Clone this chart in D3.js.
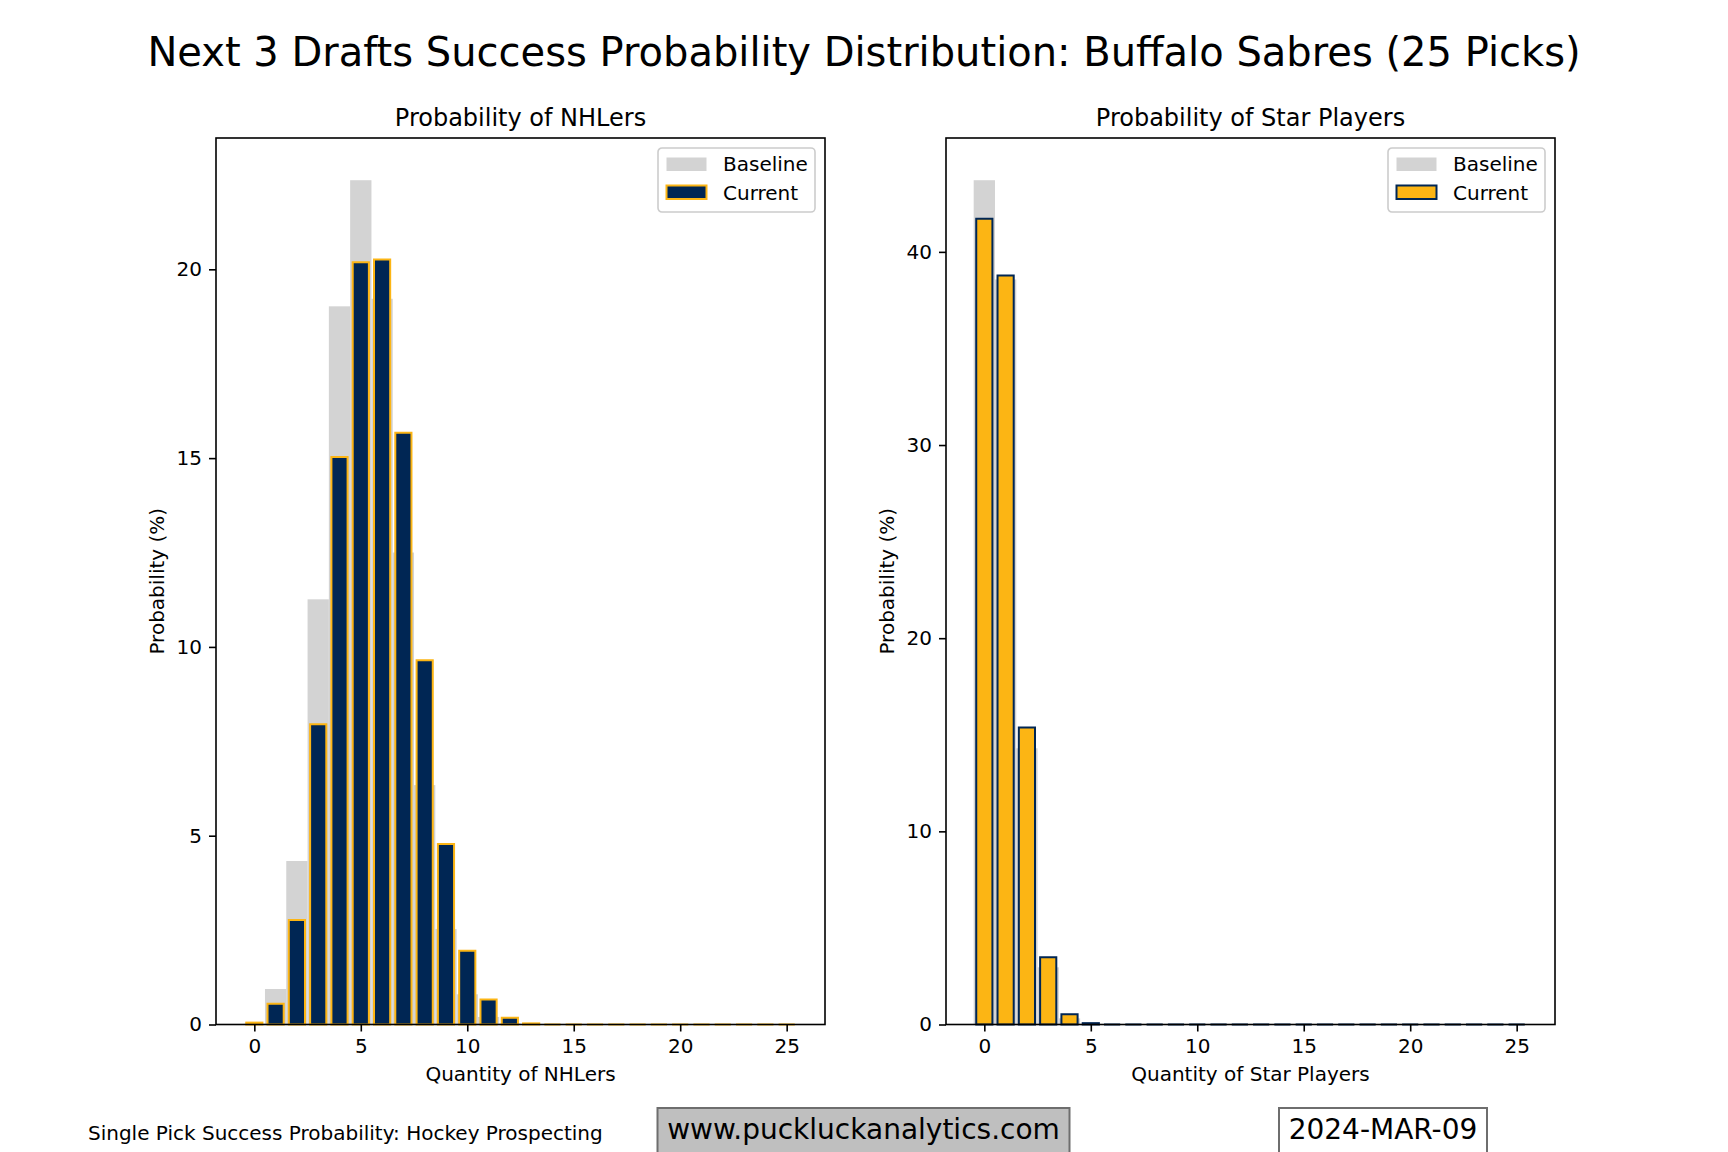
<!DOCTYPE html>
<html>
<head>
<meta charset="utf-8">
<script src="https://cdn.jsdelivr.net/npm/d3@7"></script>
<style>
  body { margin: 0; background: #fff; }
  svg text { font-family: "DejaVu Sans", sans-serif; fill: #000; }
</style>
</head>
<body>
<div id="chart"></div>
<script>
// quantities 0..25
const quantities = d3.range(0, 26)
const xTicks = [0, 5, 10, 15, 20, 25]

// NHLers distribution (%)
const nhlBaseline = [0.02, 0.94, 4.33, 11.26, 19.02, 22.36, 19.22, 12.5, 6.34, 2.53, 0.8, 0.2, 0.03,
  0, 0, 0, 0, 0, 0, 0, 0, 0, 0, 0, 0, 0]
const nhlCurrent = [0.05, 0.55, 2.77, 7.95, 15.03, 20.19, 20.26, 15.67, 9.65, 4.78, 1.95, 0.66, 0.18,
  0.03, 0, 0, 0, 0, 0, 0, 0, 0, 0, 0, 0, 0]
const nhlTicks = [0, 5, 10, 15, 20]

// Star players distribution (%)
const starBaseline = [43.71, 38.57, 14.3, 2.96, 0.32, 0.03,
  0, 0, 0, 0, 0, 0, 0, 0, 0, 0, 0, 0, 0, 0, 0, 0, 0, 0, 0, 0]
const starCurrent = [41.71, 38.78, 15.38, 3.48, 0.53, 0.07,
  0, 0, 0, 0, 0, 0, 0, 0, 0, 0, 0, 0, 0, 0, 0, 0, 0, 0, 0, 0]
const starTicks = [0, 10, 20, 30, 40]

const navy = '#002654'
const gold = '#FCB514'
const grey = '#d3d3d3'

const W = 1728, H = 1152
const svg = d3.select('#chart').append('svg')
    .attr('width', W)
    .attr('height', H)

svg.append('text')
    .attr('x', 864).attr('y', 66)
    .attr('text-anchor', 'middle')
    .style('font-size', '40px')
    .text('Next 3 Drafts Success Probability Distribution: Buffalo Sabres (25 Picks)')

const plotTop = 138, plotBottom = 1024.5, plotW = 609

function drawPanel(left, title, xLabel, baseline, current, yTicks, fill, edge) {
    const g = svg.append('g').attr('transform', `translate(${left}, ${plotTop})`)
    const h = plotBottom - plotTop

    const x = d3.scaleLinear().domain([-1.8, 26.8]).range([0, plotW])
    const y = d3.scaleLinear().domain([0, d3.max(baseline) * 1.05]).range([h, 0])
    const unit = x(1) - x(0)

    // baseline bars (width 1)
    g.selectAll('.base')
        .data(quantities.filter(q => baseline[q] > 0))
        .enter().append('rect')
        .attr('x', q => x(q - 0.5))
        .attr('y', q => y(baseline[q]))
        .attr('width', unit)
        .attr('height', q => y(0) - y(baseline[q]))
        .attr('fill', grey)

    // current bars, paths so zero-height bars still show their edge
    const bw = 0.76
    g.selectAll('.cur')
        .data(quantities)
        .enter().append('path')
        .attr('d', q => {
            const x0 = x(q - bw / 2), x1 = x(q + bw / 2)
            const y0 = y(0), y1 = y(current[q])
            return `M${x0},${y0}L${x0},${y1}L${x1},${y1}L${x1},${y0}Z`
        })
        .attr('fill', fill)
        .attr('stroke', edge)
        .attr('stroke-width', 2)

    // axes
    const xa = g.append('g')
        .attr('transform', `translate(0, ${h})`)
        .call(d3.axisBottom(x).tickValues(xTicks).tickSize(7).tickPadding(7))
    const ya = g.append('g')
        .call(d3.axisLeft(y).tickValues(yTicks).tickSize(7).tickPadding(7))
    for (const a of [xa, ya]) {
        a.select('.domain').remove()
        a.selectAll('line').attr('stroke', '#000').attr('stroke-width', 1.6)
        a.selectAll('text').style('font-size', '20px').style('font-family', '"DejaVu Sans", sans-serif')
    }

    g.append('rect')
        .attr('width', plotW).attr('height', h)
        .attr('fill', 'none')
        .attr('stroke', '#000')
        .attr('stroke-width', 1.6)

    g.append('text')
        .attr('x', plotW / 2).attr('y', -12)
        .attr('text-anchor', 'middle')
        .style('font-size', '24px')
        .text(title)

    g.append('text')
        .attr('x', plotW / 2).attr('y', h + 56)
        .attr('text-anchor', 'middle')
        .style('font-size', '20px')
        .text(xLabel)

    g.append('text')
        .attr('transform', `translate(-52, ${h / 2}) rotate(-90)`)
        .attr('text-anchor', 'middle')
        .style('font-size', '20px')
        .text('Probability (%)')

    // legend
    const lg = g.append('g').attr('transform', `translate(${plotW - 10 - 157}, 10)`)
    lg.append('rect')
        .attr('width', 157).attr('height', 64).attr('rx', 4)
        .attr('fill', '#fff').attr('fill-opacity', 0.8)
        .attr('stroke', '#cccccc').attr('stroke-width', 1.6)
    lg.append('rect')
        .attr('x', 8.5).attr('y', 9.5).attr('width', 40).attr('height', 13.5)
        .attr('fill', grey)
    lg.append('rect')
        .attr('x', 8.5).attr('y', 37.5).attr('width', 40).attr('height', 13.5)
        .attr('fill', fill).attr('stroke', edge).attr('stroke-width', 2)
    lg.append('text').attr('x', 65).attr('y', 23).style('font-size', '20px').text('Baseline')
    lg.append('text').attr('x', 65).attr('y', 52).style('font-size', '20px').text('Current')
}

drawPanel(216, 'Probability of NHLers', 'Quantity of NHLers', nhlBaseline, nhlCurrent, nhlTicks, navy, gold)
drawPanel(946, 'Probability of Star Players', 'Quantity of Star Players', starBaseline, starCurrent, starTicks, gold, navy)

// footer
svg.append('text')
    .attr('x', 88).attr('y', 1140)
    .style('font-size', '20px')
    .text('Single Pick Success Probability: Hockey Prospecting')

svg.append('rect')
    .attr('x', 657.5).attr('y', 1108).attr('width', 412).attr('height', 60)
    .attr('fill', '#bfbfbf').attr('stroke', '#6e6e6e').attr('stroke-width', 2)
svg.append('text')
    .attr('x', 863.5).attr('y', 1139)
    .attr('text-anchor', 'middle')
    .style('font-size', '28px')
    .text('www.puckluckanalytics.com')

svg.append('rect')
    .attr('x', 1279).attr('y', 1108).attr('width', 208).attr('height', 60)
    .attr('fill', '#fff').attr('stroke', '#6e6e6e').attr('stroke-width', 2)
svg.append('text')
    .attr('x', 1383).attr('y', 1139)
    .attr('text-anchor', 'middle')
    .style('font-size', '28px')
    .text('2024-MAR-09')
</script>
</body>
</html>
